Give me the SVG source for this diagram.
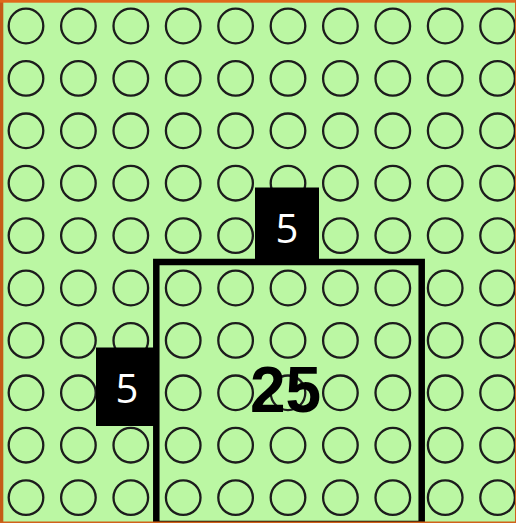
<svg xmlns="http://www.w3.org/2000/svg" xmlns:xlink="http://www.w3.org/1999/xlink" width="516" height="523" viewBox="0 0 516 523">
<style>
.c{fill:none;stroke:#1c1c1c;stroke-width:2.3}
.lab{fill:#000}
.lt{font-family:"Open Sans","Liberation Sans",sans-serif;font-size:40px;fill:#fff;text-anchor:middle}
.big{font-family:"Liberation Sans",Arial,sans-serif;font-weight:bold;font-size:64px;fill:#000;text-anchor:middle}
</style>
<defs>
<circle id="o" class="c" r="17.3"/>
<g id="row">
<use xlink:href="#o" x="26" y="0"/><use xlink:href="#o" x="78.4" y="0"/><use xlink:href="#o" x="130.8" y="0"/><use xlink:href="#o" x="183.2" y="0"/><use xlink:href="#o" x="235.6" y="0"/><use xlink:href="#o" x="288" y="0"/><use xlink:href="#o" x="340.4" y="0"/><use xlink:href="#o" x="392.8" y="0"/><use xlink:href="#o" x="445.2" y="0"/><use xlink:href="#o" x="497.6" y="0"/>
</g>
</defs>
<rect id="background" x="0" y="0" width="516" height="523" fill="#bbf7a3"/>
<g id="grid">
<use xlink:href="#row" y="26"/><use xlink:href="#row" y="78.4"/><use xlink:href="#row" y="130.8"/><use xlink:href="#row" y="183.2"/><use xlink:href="#row" y="235.6"/><use xlink:href="#row" y="288"/><use xlink:href="#row" y="340.4"/><use xlink:href="#row" y="392.8"/><use xlink:href="#row" y="445.2"/><use xlink:href="#row" y="497.6"/>
</g>
<g id="square">
<rect x="156.3" y="262" width="265.4" height="262" fill="none" stroke="#000" stroke-width="6.5"/>
<text class="big" x="285.5" y="412">25</text>
</g>
<g id="label-top">
<rect class="lab" x="255" y="187.5" width="64" height="74"/>
<text class="lt" x="287" y="243">5</text>
</g>
<g id="label-left">
<rect class="lab" x="96" y="347.5" width="62" height="78.5"/>
<text class="lt" x="127" y="403">5</text>
</g>
<g id="frame">
<rect x="0" y="0" width="3.3" height="523" fill="#c45c16"/>
<rect x="0" y="0" width="516" height="2.7" fill="#e0691a"/>
<rect x="0" y="521.5" width="516" height="1.5" fill="#d0621a"/>
<rect x="515" y="0" width="1" height="523" fill="#d0621a"/>
</g>
</svg>
